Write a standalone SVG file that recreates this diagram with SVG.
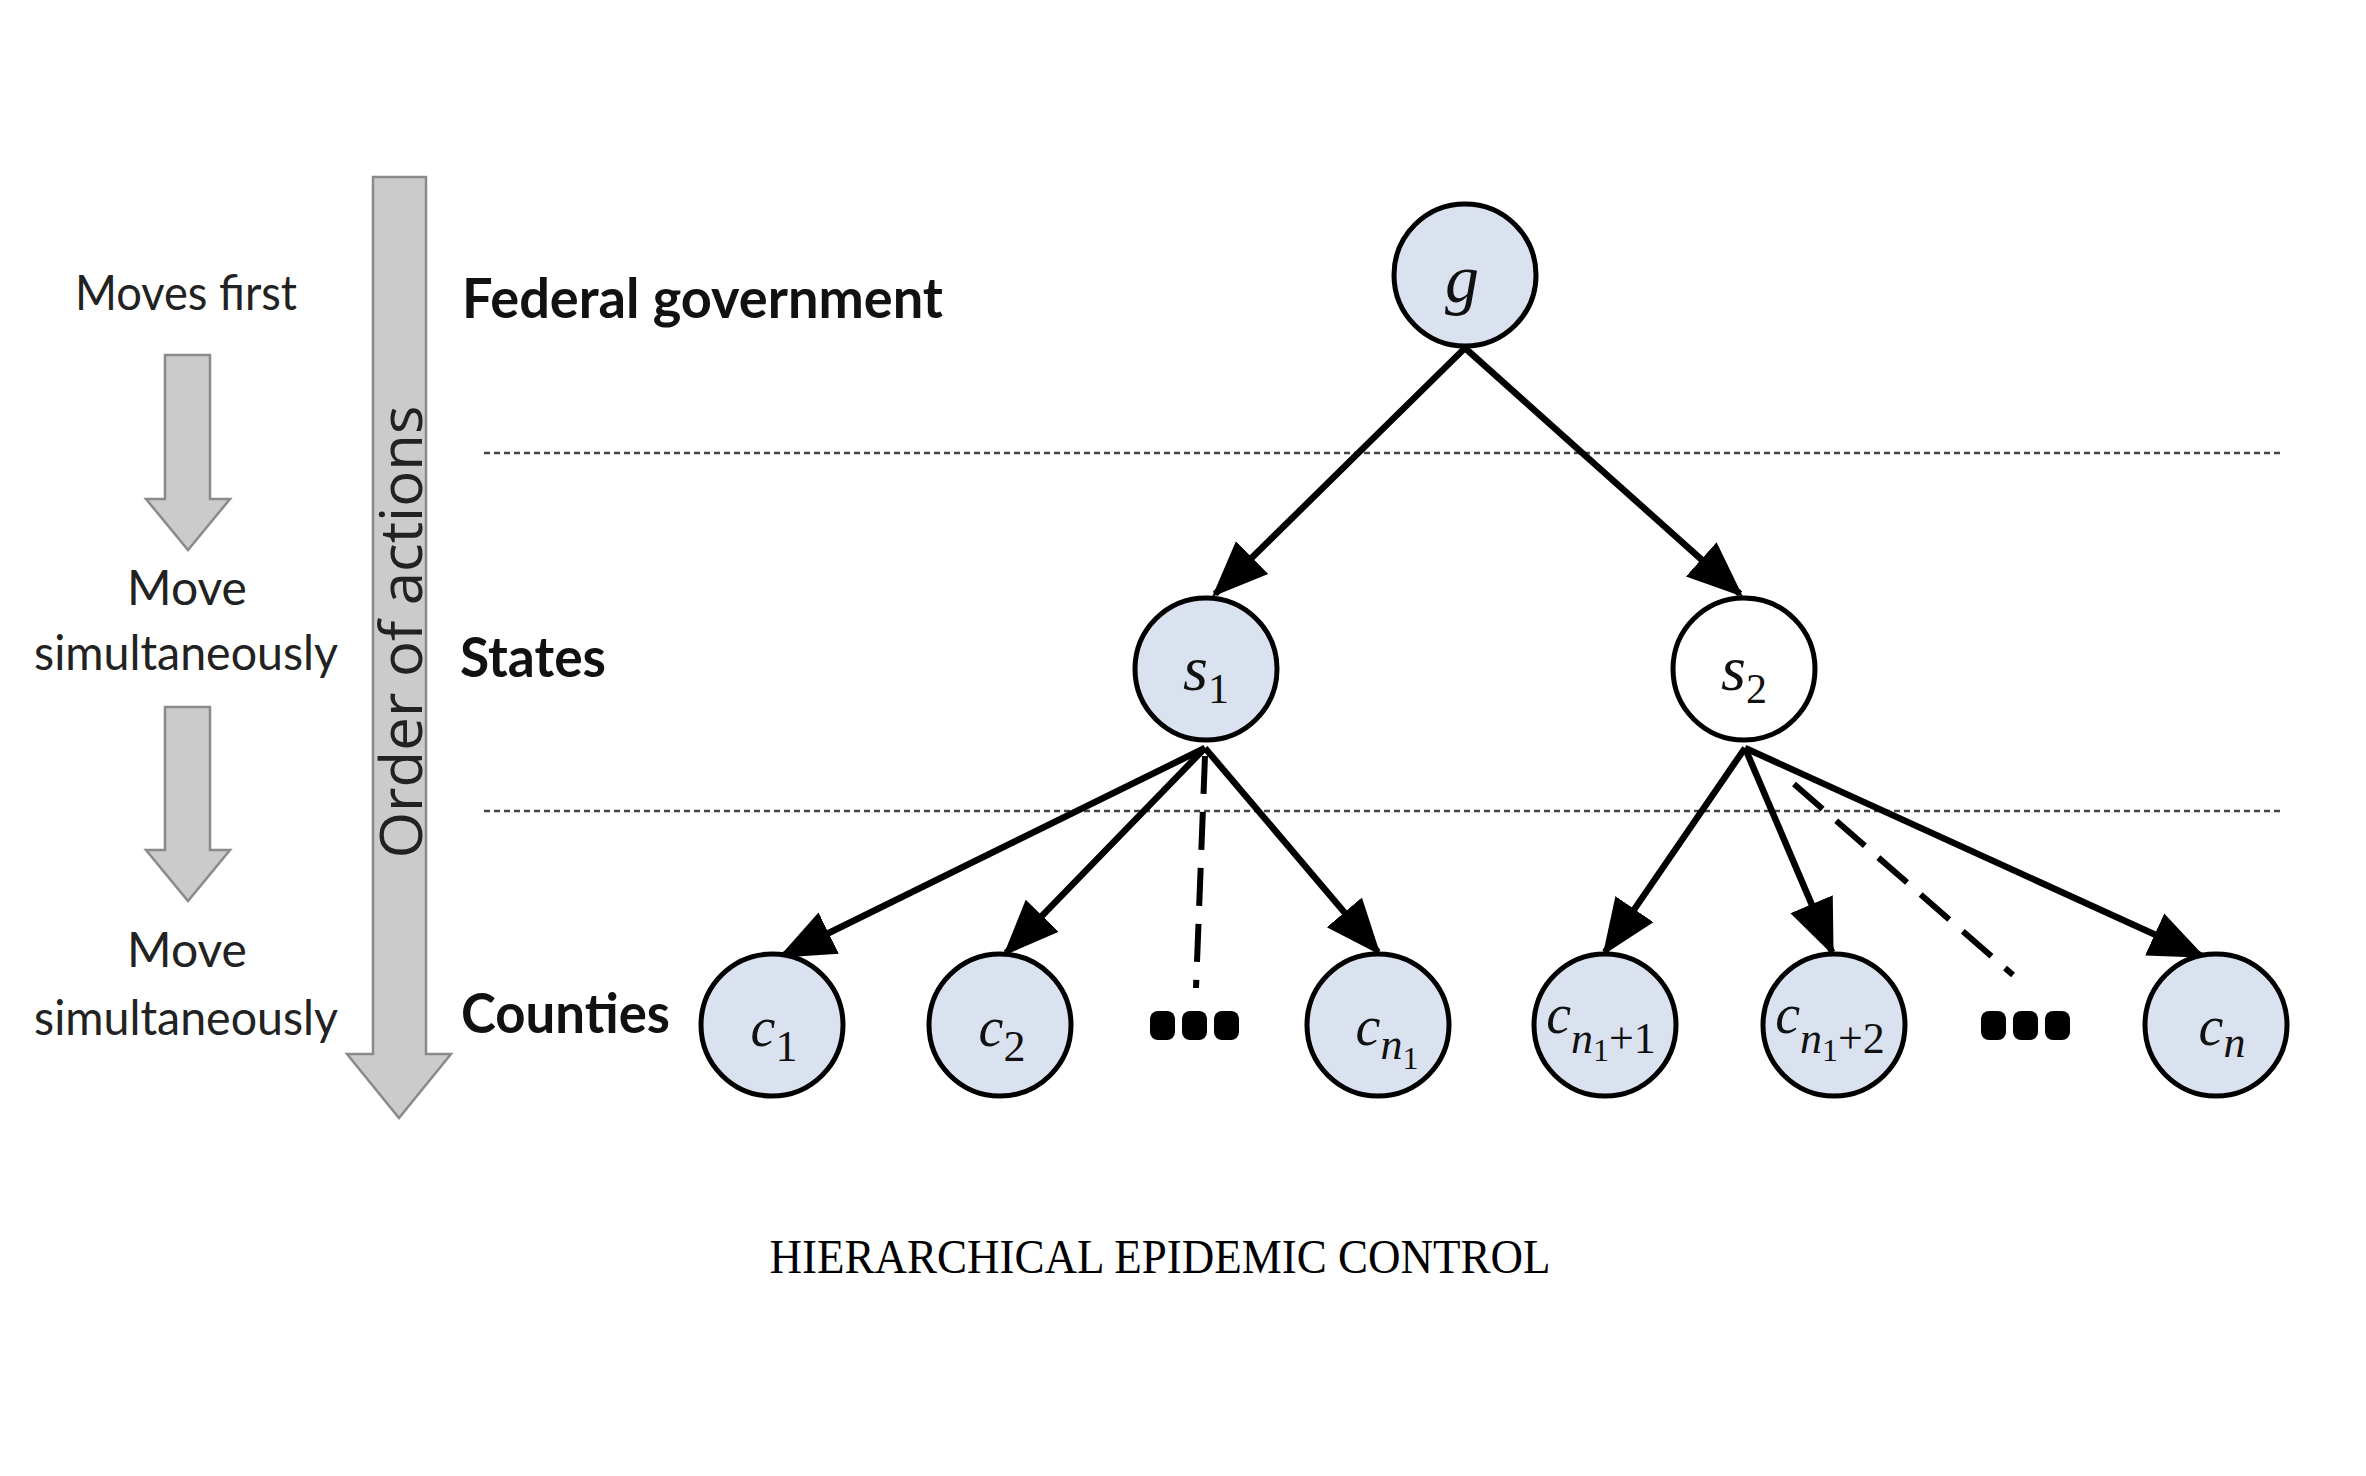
<svg xmlns="http://www.w3.org/2000/svg" width="2366" height="1476" viewBox="0 0 2366 1476">
<style>
.node{fill:#dae1ef;stroke:#000;stroke-width:5}
.node.white{fill:#fff}
.math{font-family:"Liberation Serif",serif;fill:#111}
.it{font-style:italic}
.edge{stroke:#000;stroke-width:6.5;fill:none;marker-end:url(#ah)}
.dash{stroke:#000;stroke-width:6;fill:none;stroke-dasharray:38 18}
.sep{stroke:#444;stroke-width:2.5;stroke-dasharray:6 4;fill:none}
.left{font-family:Lato,"Liberation Sans",sans-serif;font-size:48px;fill:#222;text-anchor:middle}
.lvl{font-family:Lato,"Liberation Sans",sans-serif;font-weight:bold;font-size:56px;fill:#111}
.garrow{fill:#cbcbcb;stroke:#8a8a8a;stroke-width:2.5}
.dots{fill:#000}
</style>
<defs>
<marker id="ah" markerUnits="userSpaceOnUse" markerWidth="56" markerHeight="56" viewBox="0 0 56 56" refX="52" refY="28" orient="auto">
<path d="M0,5 L56,28 L0,51 Z" fill="#000"/>
</marker>
</defs>
<rect width="2366" height="1476" fill="#fff"/>

<!-- left column -->
<g id="order-arrow">
<polygon class="garrow" points="373,177 426,177 426,1054 451,1054 399,1118 347,1054 373,1054"/>
<text transform="translate(422,632) rotate(-90)" text-anchor="middle" font-family="'Open Sans','Liberation Sans',sans-serif" font-size="58" fill="#222" textLength="453" lengthAdjust="spacingAndGlyphs">Order of actions</text>
</g>
<g id="step-arrows">
<polygon class="garrow" points="165,355 210,355 210,499 230,499 188,550 146,499 165,499"/>
<polygon class="garrow" points="165,707 210,707 210,850 230,850 188,901 146,850 165,850"/>
</g>
<g id="step-labels">
<text class="left" x="186" y="310" textLength="222" lengthAdjust="spacingAndGlyphs">Moves first</text>
<text class="left" x="187" y="605">Move</text>
<text class="left" x="186" y="670" textLength="304" lengthAdjust="spacingAndGlyphs">simultaneously</text>
<text class="left" x="187" y="967">Move</text>
<text class="left" x="186" y="1035" textLength="304" lengthAdjust="spacingAndGlyphs">simultaneously</text>
</g>
<g id="level-labels">
<text class="lvl" x="462" y="318" textLength="481" lengthAdjust="spacingAndGlyphs">Federal government</text>
<text class="lvl" x="460" y="677" textLength="146" lengthAdjust="spacingAndGlyphs">States</text>
<text class="lvl" x="461" y="1033" textLength="209" lengthAdjust="spacingAndGlyphs">Counties</text>
</g>

<g id="separators">
<line class="sep" x1="484" y1="453" x2="2280" y2="453"/>
<line class="sep" x1="484" y1="811" x2="2280" y2="811"/>
</g>

<g id="connectors">
<line class="edge" x1="1465" y1="348" x2="1215" y2="594"/>
<line class="edge" x1="1465" y1="348" x2="1740" y2="594"/>
<line class="edge" x1="1205" y1="748" x2="782" y2="956"/>
<line class="edge" x1="1205" y1="748" x2="1006" y2="953"/>
<line class="edge" x1="1205" y1="748" x2="1378" y2="952"/>
<line class="dash" x1="1205" y1="756" x2="1196" y2="988"/>
<line class="edge" x1="1745" y1="748" x2="1605" y2="952"/>
<line class="edge" x1="1745" y1="748" x2="1832" y2="952"/>
<line class="edge" x1="1745" y1="748" x2="2202" y2="956"/>
<line class="dash" x1="1794" y1="784" x2="2013" y2="975"/>
</g>

<g id="node-g">
<circle class="node" cx="1465" cy="275" r="71"/>
<text class="math it" x="1462" y="302" font-size="68" text-anchor="middle">g</text>
</g>
<g id="node-s1">
<circle class="node" cx="1206" cy="669" r="71"/>
<text class="math" x="1206" y="690" font-size="64" text-anchor="middle"><tspan class="it">s</tspan><tspan font-size="42" dy="13">1</tspan></text>
</g>
<g id="node-s2">
<circle class="node white" cx="1744" cy="669" r="71"/>
<text class="math" x="1744" y="690" font-size="64" text-anchor="middle"><tspan class="it">s</tspan><tspan font-size="42" dy="13">2</tspan></text>
</g>
<g id="node-c1">
<circle class="node" cx="772" cy="1025" r="71"/>
<text class="math" x="774" y="1046" font-size="56" text-anchor="middle"><tspan class="it">c</tspan><tspan font-size="44" dy="15">1</tspan></text>
</g>
<g id="node-c2">
<circle class="node" cx="1000" cy="1025" r="71"/>
<text class="math" x="1002" y="1046" font-size="56" text-anchor="middle"><tspan class="it">c</tspan><tspan font-size="44" dy="15">2</tspan></text>
</g>
<g id="dots-1">
<rect class="dots" x="1150" y="1011" width="25" height="29" rx="8"/>
<rect class="dots" x="1182" y="1011" width="25" height="29" rx="8"/>
<rect class="dots" x="1214" y="1011" width="25" height="29" rx="8"/>
</g>
<g id="node-cn1">
<circle class="node" cx="1378" cy="1025" r="71"/>
<text class="math" x="1387" y="1045" font-size="56" text-anchor="middle"><tspan class="it">c</tspan><tspan class="it" font-size="44" dy="14">n</tspan><tspan font-size="32" dy="10">1</tspan></text>
</g>
<g id="node-cn1p1">
<circle class="node" cx="1605" cy="1025" r="71"/>
<text class="math" x="1601" y="1033" font-size="56" text-anchor="middle"><tspan class="it">c</tspan><tspan class="it" font-size="44" dy="20">n</tspan><tspan font-size="32" dy="8">1</tspan><tspan font-size="44" dy="-8">+1</tspan></text>
</g>
<g id="node-cn1p2">
<circle class="node" cx="1834" cy="1025" r="71"/>
<text class="math" x="1830" y="1033" font-size="56" text-anchor="middle"><tspan class="it">c</tspan><tspan class="it" font-size="44" dy="20">n</tspan><tspan font-size="32" dy="8">1</tspan><tspan font-size="44" dy="-8">+2</tspan></text>
</g>
<g id="dots-2">
<rect class="dots" x="1981" y="1011" width="25" height="29" rx="8"/>
<rect class="dots" x="2013" y="1011" width="25" height="29" rx="8"/>
<rect class="dots" x="2045" y="1011" width="25" height="29" rx="8"/>
</g>
<g id="node-cn">
<circle class="node" cx="2216" cy="1025" r="71"/>
<text class="math" x="2222" y="1045" font-size="56" text-anchor="middle"><tspan class="it">c</tspan><tspan class="it" font-size="44" dy="12">n</tspan></text>
</g>

<text id="caption" x="1160" y="1273" font-family="'Liberation Serif',serif" font-size="48" text-anchor="middle" fill="#000" textLength="781" lengthAdjust="spacingAndGlyphs">HIERARCHICAL EPIDEMIC CONTROL</text>
</svg>
